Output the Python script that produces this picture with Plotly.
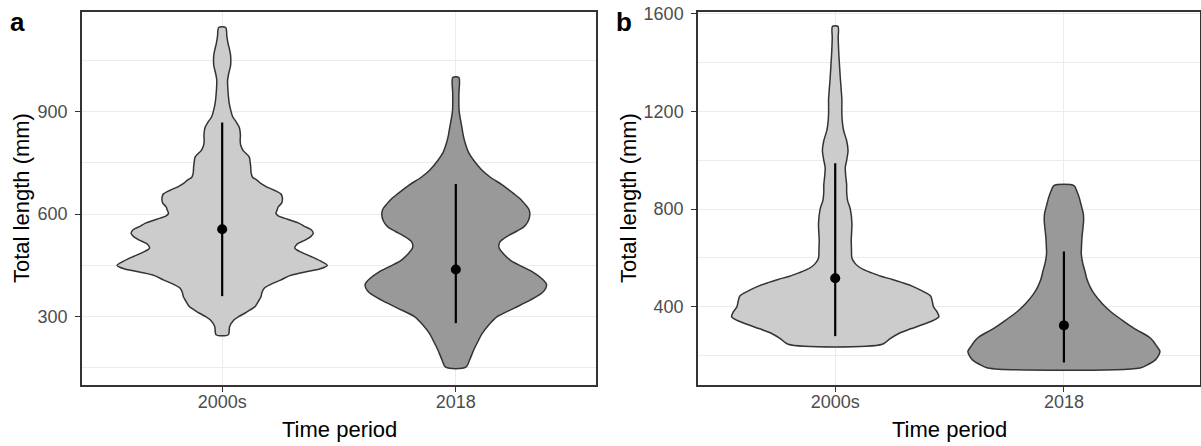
import plotly.graph_objects as go

OFF = 0
W, H = 1201, 446

categories = ["2000s", "2018"]
cat_pos = [1, 2]

# ---- Panel a: violin profiles (length mm, half-width in category units)
a_2000s_y = [247, 271, 290, 300, 310, 320, 329, 345, 358, 370, 383, 395, 407, 420, 430, 440, 450,
             463, 476, 488, 500, 512, 524, 535, 544, 555, 565, 573, 585, 595, 602, 612, 621, 633,
             645, 655, 660, 670, 680, 690, 699, 708, 720, 728, 740, 750, 767, 786, 800, 815, 830,
             845, 854, 870, 885, 903, 925, 950, 970, 990, 1005, 1020, 1035, 1049, 1065, 1080,
             1100, 1120, 1146]
a_2000s_w = [0.026, 0.032, 0.05, 0.07, 0.097, 0.12, 0.14, 0.155, 0.166, 0.17, 0.18, 0.21, 0.25,
             0.29, 0.35, 0.42, 0.45, 0.42, 0.38, 0.34, 0.311, 0.32, 0.355, 0.38, 0.39, 0.38, 0.35,
             0.33, 0.28, 0.24, 0.23, 0.235, 0.24, 0.255, 0.258, 0.255, 0.25, 0.223, 0.19, 0.165,
             0.15, 0.13, 0.124, 0.123, 0.122, 0.12, 0.116, 0.09, 0.08, 0.077, 0.078, 0.076, 0.073,
             0.06, 0.045, 0.037, 0.03, 0.026, 0.024, 0.023, 0.026, 0.031, 0.036, 0.037, 0.036,
             0.032, 0.025, 0.02, 0.015]

a_2018_y = [152, 175, 203, 225, 251, 275, 300, 325, 349, 370, 383, 395, 410, 430, 448, 465, 487,
            500, 509, 520, 535, 550, 562, 580, 601, 615, 630, 645, 660, 685, 708, 730, 757, 780,
            806, 830, 854, 880, 903, 950, 1000]
a_2018_w = [0.043, 0.06, 0.077, 0.093, 0.113, 0.14, 0.177, 0.25, 0.32, 0.37, 0.385, 0.388, 0.37,
            0.33, 0.28, 0.234, 0.2, 0.186, 0.184, 0.19, 0.22, 0.26, 0.29, 0.31, 0.317, 0.312,
            0.295, 0.275, 0.248, 0.2, 0.148, 0.11, 0.077, 0.055, 0.041, 0.032, 0.026, 0.019,
            0.014, 0.013, 0.013]

a_mean = [556, 438]
a_upper = [868, 688]
a_lower = [360, 281]

# ---- Panel b
b_2000s_y = [247, 270, 291, 310, 332, 345, 359, 380, 400, 420, 444, 465, 485, 500, 512, 525, 539,
             552, 566, 580, 600, 640, 673, 710, 741, 800, 835, 870, 900, 935, 971, 1000, 1040,
             1080, 1121, 1150, 1191, 1220, 1251, 1290, 1340, 1400, 1449, 1500, 1548]
b_2000s_w = [0.206, 0.24, 0.278, 0.33, 0.395, 0.43, 0.453, 0.445, 0.43, 0.425, 0.417, 0.38, 0.336,
             0.29, 0.25, 0.2, 0.16, 0.125, 0.10, 0.085, 0.073, 0.071, 0.07, 0.072, 0.073, 0.066,
             0.054, 0.05, 0.05, 0.046, 0.044, 0.05, 0.056, 0.05, 0.037, 0.032, 0.029, 0.029,
             0.029, 0.026, 0.022, 0.018, 0.015, 0.013, 0.012]

b_2018_y = [150, 165, 183, 195, 217, 240, 260, 278, 310, 346, 380, 414, 450, 481, 515, 549, 580,
            617, 650, 685, 720, 752, 780, 800, 825, 847, 870, 896]
b_2018_w = [0.333, 0.37, 0.40, 0.41, 0.42, 0.405, 0.39, 0.37, 0.31, 0.254, 0.205, 0.167, 0.135,
            0.115, 0.1, 0.091, 0.082, 0.076, 0.077, 0.079, 0.083, 0.086, 0.085, 0.08, 0.073,
            0.067, 0.058, 0.044]

b_mean = [517, 324]
b_upper = [988, 627]
b_lower = [280, 172]

fills = ["#CCCCCC", "#999999"]
OUTLINE = "#333333"
FONT = "Liberation Sans, Arial, sans-serif"

fig = go.Figure()


def add_violin(center, ys, ws, fill, xa, ya):
    # right side bottom->top, left side top->bottom, then back to the start (flat bottom edge)
    xs = [center + w for w in ws] + [center - w for w in ws[::-1]] + [center + ws[0]]
    yy = list(ys) + list(ys[::-1]) + [ys[0]]
    fig.add_trace(go.Scatter(
        x=xs, y=yy, mode="lines", fill="toself", fillcolor=fill,
        line=dict(color=OUTLINE, width=1.5, shape="spline", smoothing=0.8),
        xaxis=xa, yaxis=ya, showlegend=False, hoverinfo="skip"))


def add_summary(means, ups, lows, xa, ya):
    fig.add_trace(go.Scatter(
        x=cat_pos, y=means, mode="markers",
        marker=dict(color="black", size=10),
        error_y=dict(type="data", symmetric=False,
                     array=[u - m for u, m in zip(ups, means)],
                     arrayminus=[m - l for m, l in zip(means, lows)],
                     width=0, thickness=2.2, color="black"),
        xaxis=xa, yaxis=ya, showlegend=False))


add_violin(cat_pos[0], a_2000s_y, a_2000s_w, fills[0], "x", "y")
add_violin(cat_pos[1], a_2018_y, a_2018_w, fills[1], "x", "y")
add_summary(a_mean, a_upper, a_lower, "x", "y")

add_violin(cat_pos[0], b_2000s_y, b_2000s_w, fills[0], "x2", "y2")
add_violin(cat_pos[1], b_2018_y, b_2018_w, fills[1], "x2", "y2")
add_summary(b_mean, b_upper, b_lower, "x2", "y2")


def px_x(x):  # screen pixel -> paper fraction
    return (x - OFF) / W


def px_y(y):
    return 1 - (y - OFF) / H


GRID = "#EBEBEB"
tickfont = dict(family=FONT, size=18, color="#4D4D4D")
titlefont = dict(family=FONT, size=22, color="black")

y_dom = [px_y(385), px_y(11.5)]

common_x = dict(tickvals=cat_pos, ticktext=categories, automargin=False,
                showgrid=True, gridcolor=GRID, gridwidth=1.3, zeroline=False,
                showline=True, mirror=True, linecolor="#333333", linewidth=1.5,
                ticks="outside", ticklen=5, tickcolor="#333333", tickwidth=1.3,
                ticklabelstandoff=-5, tickfont=tickfont)
common_y = dict(showgrid=True, gridcolor=GRID, gridwidth=1.3, zeroline=False, automargin=False,
                showline=True, mirror=True, linecolor="#333333", linewidth=1.5,
                ticks="outside", ticklen=5, tickcolor="#333333", tickwidth=1.3,
                ticklabelstandoff=4, ticklabeloverflow="allow", tickfont=tickfont)

b_right = 1199.5
b_xmax = 0.4 + (b_right - 698) / ((1063.7 - 835))

ann = []
for txt, x in (("<b>a</b>", 7.5), ("<b>b</b>", 614)):
    ann.append(dict(text=txt, x=px_x(x), y=px_y(5.5), xref="paper", yref="paper",
                    xanchor="left", yanchor="top", showarrow=False,
                    font=dict(family=FONT, size=26, color="black")))
for x in (339, 949):
    ann.append(dict(text="Time period", x=px_x(x), y=px_y(429), xref="paper", yref="paper",
                    xanchor="center", yanchor="middle", showarrow=False, font=titlefont))
for x in (22, 629):
    ann.append(dict(text="Total length (mm)", x=px_x(x), y=px_y(198), xref="paper",
                    yref="paper", xanchor="center", yanchor="middle", textangle=-90,
                    showarrow=False, font=titlefont))

fig.update_layout(
    template="none",
    width=W, height=H,
    margin=dict(l=0, r=0, t=0, b=0, pad=0),
    paper_bgcolor="white", plot_bgcolor="white",
    font=dict(family=FONT),
    xaxis=dict(domain=[px_x(82), px_x(596)], anchor="y", range=[0.4, 2.6], **common_x),
    yaxis=dict(domain=y_dom, anchor="x", range=[100, 1193],
               tickvals=[300, 600, 900],
               minor=dict(tickvals=[150, 450, 750, 1050], showgrid=True,
                          gridcolor=GRID, gridwidth=0.7, ticks=""),
               **common_y),
    xaxis2=dict(domain=[px_x(698), px_x(b_right)], anchor="y2", range=[0.4, b_xmax], **common_x),
    yaxis2=dict(domain=y_dom, anchor="x2", range=[80, 1609],
                tickvals=[400, 800, 1200, 1600],
                minor=dict(tickvals=[200, 600, 1000, 1400], showgrid=True,
                           gridcolor=GRID, gridwidth=0.7, ticks=""),
                **common_y),
    annotations=ann,
)

# remove the browser's default 8px page margin so the figure fills the window exactly
fig.write_html("out.html",
               config={"displayModeBar": False},
               post_script="document.body.style.margin='0';document.body.style.overflow='hidden';")
